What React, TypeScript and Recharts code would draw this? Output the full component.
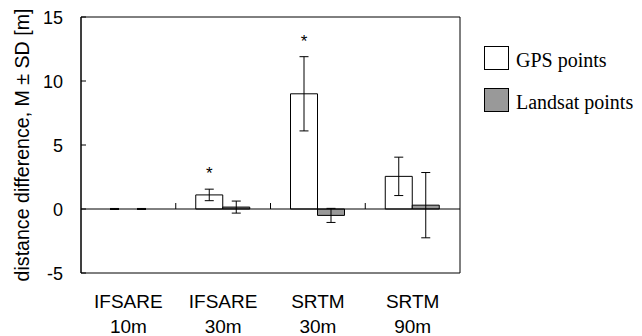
import React from 'react';
import {
  Bar,
  BarChart,
  Cell,
  ErrorBar,
  Legend,
  ReferenceArea,
  ReferenceLine,
  XAxis,
  YAxis,
} from 'recharts';

const categoryNames = ['IFSARE', 'IFSARE', 'SRTM', 'SRTM'];
const categoryRes = ['10m', '30m', '30m', '90m'];
const gpsMean = [0.001, 1.1, 9.0, 2.55];
const gpsSd = [0.04, 0.45, 2.9, 1.5];
const landsatMean = [0.001, 0.15, -0.5, 0.3];
const landsatSd = [0.04, 0.47, 0.55, 2.55];
const gpsSignificant = [false, true, true, false];
const yTicks = [-5, 0, 5, 10, 15];

const WIDTH = 642;
const HEIGHT = 336;
const MARGIN = { top: 17, right: 182, bottom: 0, left: 0 };
const Y_AXIS_W = 81;
const X_AXIS_H = 63;
const PLOT_W = WIDTH - MARGIN.right - Y_AXIS_W;
const PLOT_H = HEIGHT - MARGIN.top - X_AXIS_H;
const Y_MIN = -5;
const Y_MAX = 15;
const ZERO_Y = MARGIN.top + (PLOT_H * Y_MAX) / (Y_MAX - Y_MIN);

const SANS = '"Liberation Sans", Arial, sans-serif';
const SERIF = '"Liberation Serif", "Times New Roman", serif';

const data = categoryNames.map((name, i) => ({
  name: `${name} ${categoryRes[i]}`,
  gps: gpsMean[i],
  gpsSd: gpsSd[i],
  landsat: landsatMean[i],
  landsatSd: landsatSd[i],
}));

// near-zero bars show only their error caps in the original
const outline = (v: number) => (Math.abs(v) < 0.01 ? 'none' : '#000');

function XTick(props: any) {
  const { x, y, index } = props;
  const band = PLOT_W / categoryNames.length;
  return (
    <g>
      {index > 0 && (
        <line
          x1={x - band / 2}
          x2={x - band / 2}
          y1={ZERO_Y - 6}
          y2={ZERO_Y}
          stroke="#000"
        />
      )}
      <text x={x} y={y + 35} textAnchor="middle" fontSize={19} fontFamily={SANS} fill="#000">
        {categoryNames[index]}
      </text>
      <text x={x} y={y + 60} textAnchor="middle" fontSize={19} fontFamily={SANS} fill="#000">
        {categoryRes[index]}
      </text>
    </g>
  );
}

function YTick(props: any) {
  const { x, y, payload } = props;
  return (
    <g>
      <line x1={Y_AXIS_W} x2={Y_AXIS_W + 5} y1={y} y2={y} stroke="#000" />
      <text x={x} y={y + 6.5} textAnchor="end" fontSize={18} fontFamily={SANS} fill="#000">
        {payload.value}
      </text>
    </g>
  );
}

function renderYLabel() {
  const cx = 29;
  const cy = MARGIN.top + PLOT_H / 2;
  return (
    <text
      x={cx}
      y={cy}
      textAnchor="middle"
      fontSize={19.6}
      fontFamily={SANS}
      fill="#000"
      transform={`rotate(-90 ${cx} ${cy})`}
    >
      distance difference, M ± SD [m]
    </text>
  );
}

function renderStar(props: any) {
  const { x, y, width, height, index } = props;
  if (!gpsSignificant[index]) return null;
  const value = gpsMean[index];
  const pxPerUnit = height / value;
  const errTop = y - gpsSd[index] * pxPerUnit;
  return (
    <text
      x={x + width / 2}
      y={errTop - 10}
      textAnchor="middle"
      fontSize={17}
      fontFamily={SANS}
      fill="#000"
    >
      *
    </text>
  );
}

function renderLegend(props: any) {
  const { payload } = props;
  if (!payload) return null;
  return (
    <div style={{ display: 'flex', flexDirection: 'column' }}>
      {payload.map((entry: any) => (
        <div
          key={entry.value}
          style={{ display: 'flex', alignItems: 'center', height: 42 }}
        >
          <span
            style={{
              display: 'inline-block',
              width: 23,
              height: 22,
              border: '1px solid #000',
              backgroundColor: entry.color,
            }}
          />
          <span
            style={{
              marginLeft: 7,
              paddingTop: 4,
              fontFamily: SERIF,
              fontSize: 20,
              color: '#000',
              whiteSpace: 'nowrap',
            }}
          >
            {entry.value}
          </span>
        </div>
      ))}
    </div>
  );
}

export default function App() {
  return (
    <div style={{ position: 'absolute', left: 0, top: 0, width: WIDTH, height: HEIGHT }}>
      <BarChart
        width={WIDTH}
        height={HEIGHT}
        data={data}
        margin={MARGIN}
        barSize={27}
        barGap={0}
      >
        <ReferenceArea
          y1={Y_MIN}
          y2={Y_MAX}
          fill="none"
          stroke="#000"
          strokeWidth={1}
          ifOverflow="visible"
        />
        <XAxis
          dataKey="name"
          height={X_AXIS_H}
          axisLine={false}
          tickLine={false}
          tickSize={0}
          tickMargin={0}
          interval={0}
          tick={<XTick />}
        />
        <YAxis
          width={Y_AXIS_W}
          domain={[Y_MIN, Y_MAX]}
          ticks={yTicks}
          allowDataOverflow
          axisLine={{ stroke: '#000' }}
          tickLine={false}
          tickSize={0}
          tickMargin={18}
          tick={<YTick />}
          label={{ content: renderYLabel }}
        />
        <ReferenceLine y={0} stroke="#000" strokeWidth={1} ifOverflow="visible" />
        <Bar
          dataKey="gps"
          name="GPS points"
          fill="#ffffff"
          stroke="#000"
          strokeWidth={1}
          isAnimationActive={false}
          label={renderStar}
        >
          {gpsMean.map((v, i) => (
            <Cell key={`gps-${i}`} stroke={outline(v)} />
          ))}
          <ErrorBar dataKey="gpsSd" width={4.5} stroke="#000" strokeWidth={1} />
        </Bar>
        <Bar
          dataKey="landsat"
          name="Landsat points"
          fill="#999999"
          stroke="#000"
          strokeWidth={1}
          isAnimationActive={false}
        >
          {landsatMean.map((v, i) => (
            <Cell key={`landsat-${i}`} stroke={outline(v)} />
          ))}
          <ErrorBar dataKey="landsatSd" width={4.5} stroke="#000" strokeWidth={1} />
        </Bar>
        <Legend
          layout="vertical"
          align="center"
          verticalAlign="middle"
          content={renderLegend}
          wrapperStyle={{ left: 484, top: 37, width: 'auto', height: 'auto' }}
        />
      </BarChart>
    </div>
  );
}
